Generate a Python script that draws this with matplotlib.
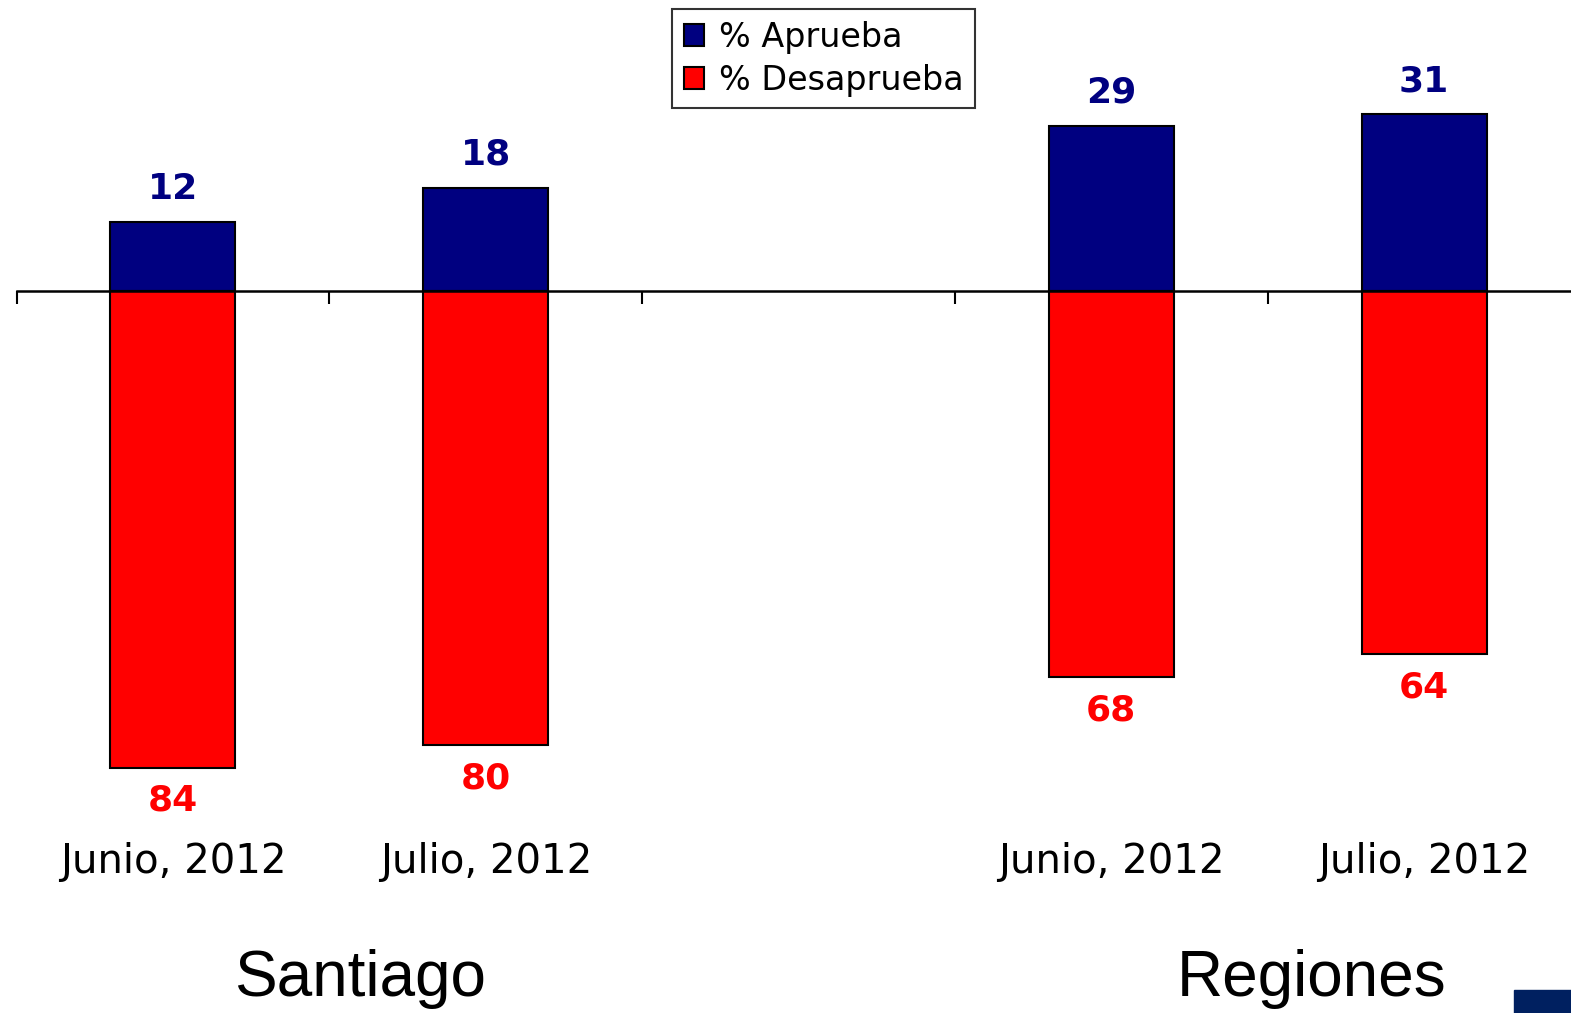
import matplotlib.pyplot as plt
from matplotlib.patches import Rectangle
from matplotlib.transforms import blended_transform_factory

# ── data ───────────────────────────────────────────────────────────────────
periods = ['Junio, 2012', 'Julio, 2012', '', 'Junio, 2012', 'Julio, 2012']
groups = ['Santiago', 'Regiones']
aprueba = [12, 18, None, 29, 31]
desaprueba = [84, 80, None, 68, 64]

navy = '#000080'
red = '#FF0000'

W, H = 1571, 1013
fig = plt.figure(figsize=(W / 100, H / 100), dpi=100, facecolor='white')

# axes spans full height; zero line sits at pixel 290 from top
ppu = 5.68                      # pixels per percentage point
zero_px = 290.5
left_px = 16.5
cat_px = 312.8
ax = fig.add_axes([left_px / W, 0, len(periods) * cat_px / W, 1])
ax.set_xlim(-0.5, len(periods) - 0.5)
ax.set_ylim(-(H - zero_px) / ppu, zero_px / ppu)

xs = [i for i, v in enumerate(aprueba) if v is not None]
ap = [aprueba[i] for i in xs]
de = [-desaprueba[i] for i in xs]

b1 = ax.bar(xs, ap, width=0.4, color=navy, edgecolor='black', linewidth=1.5,
            label='% Aprueba', zorder=2)
b2 = ax.bar(xs, de, width=0.4, color=red, edgecolor='black', linewidth=1.5,
            label='% Desaprueba', zorder=2)

# value labels
for x, v in zip(xs, ap):
    ax.annotate(f'{v}', xy=(x, v), xytext=(0, 24), textcoords='offset points',
                ha='center', va='center', fontsize=26, fontweight='bold',
                color=navy)
for x, v in zip(xs, de):
    ax.annotate(f'{-v}', xy=(x, v), xytext=(0, -24), textcoords='offset points',
                ha='center', va='center', fontsize=26, fontweight='bold',
                color=red)

# axis styling
for s in ['left', 'right', 'top']:
    ax.spines[s].set_visible(False)
ax.spines['bottom'].set_position(('data', 0))
ax.spines['bottom'].set_linewidth(1.8)
ax.spines['bottom'].set_zorder(3)
ax.set_yticks([])
ax.set_xticks([i - 0.5 for i in range(len(periods) + 1)])
ax.set_xticklabels([])
ax.tick_params(axis='x', direction='out', length=9, width=1.5, color='black')
ax.set_facecolor('none')

# category labels
tr = blended_transform_factory(ax.transData, fig.transFigure)
for i, p in enumerate(periods):
    if p:
        ax.text(i, 1 - 862 / H, p, transform=tr, ha='center', va='center',
                fontsize=29, color='black', family='DejaVu Sans')

# group labels
fig.text(360 / W, 1 - 979 / H, groups[0], ha='center', va='center',
         fontsize=46, family='Liberation Sans', color='black')
fig.text(1312 / W, 1 - 979 / H, groups[1], ha='center', va='center',
         fontsize=46, family='Liberation Sans', color='black')

# legend
leg = fig.legend(handles=[b1, b2], loc='upper left',
                 bbox_to_anchor=(672 / W, 1 - 9 / H), borderaxespad=0,
                 fontsize=24, frameon=True, fancybox=False,
                 handlelength=0.6, handleheight=0.6, handletextpad=0.45,
                 labelspacing=0.3, borderpad=0.35)
leg.get_frame().set_edgecolor('black')
leg.get_frame().set_linewidth(1.5)

# decorative corner block
fig.patches.append(Rectangle((1514 / W, 0), 60 / W, 23 / H,
                             transform=fig.transFigure, color='#002060',
                             zorder=0))

plt.savefig('out.png', dpi=100, facecolor='white')
plt.close()
